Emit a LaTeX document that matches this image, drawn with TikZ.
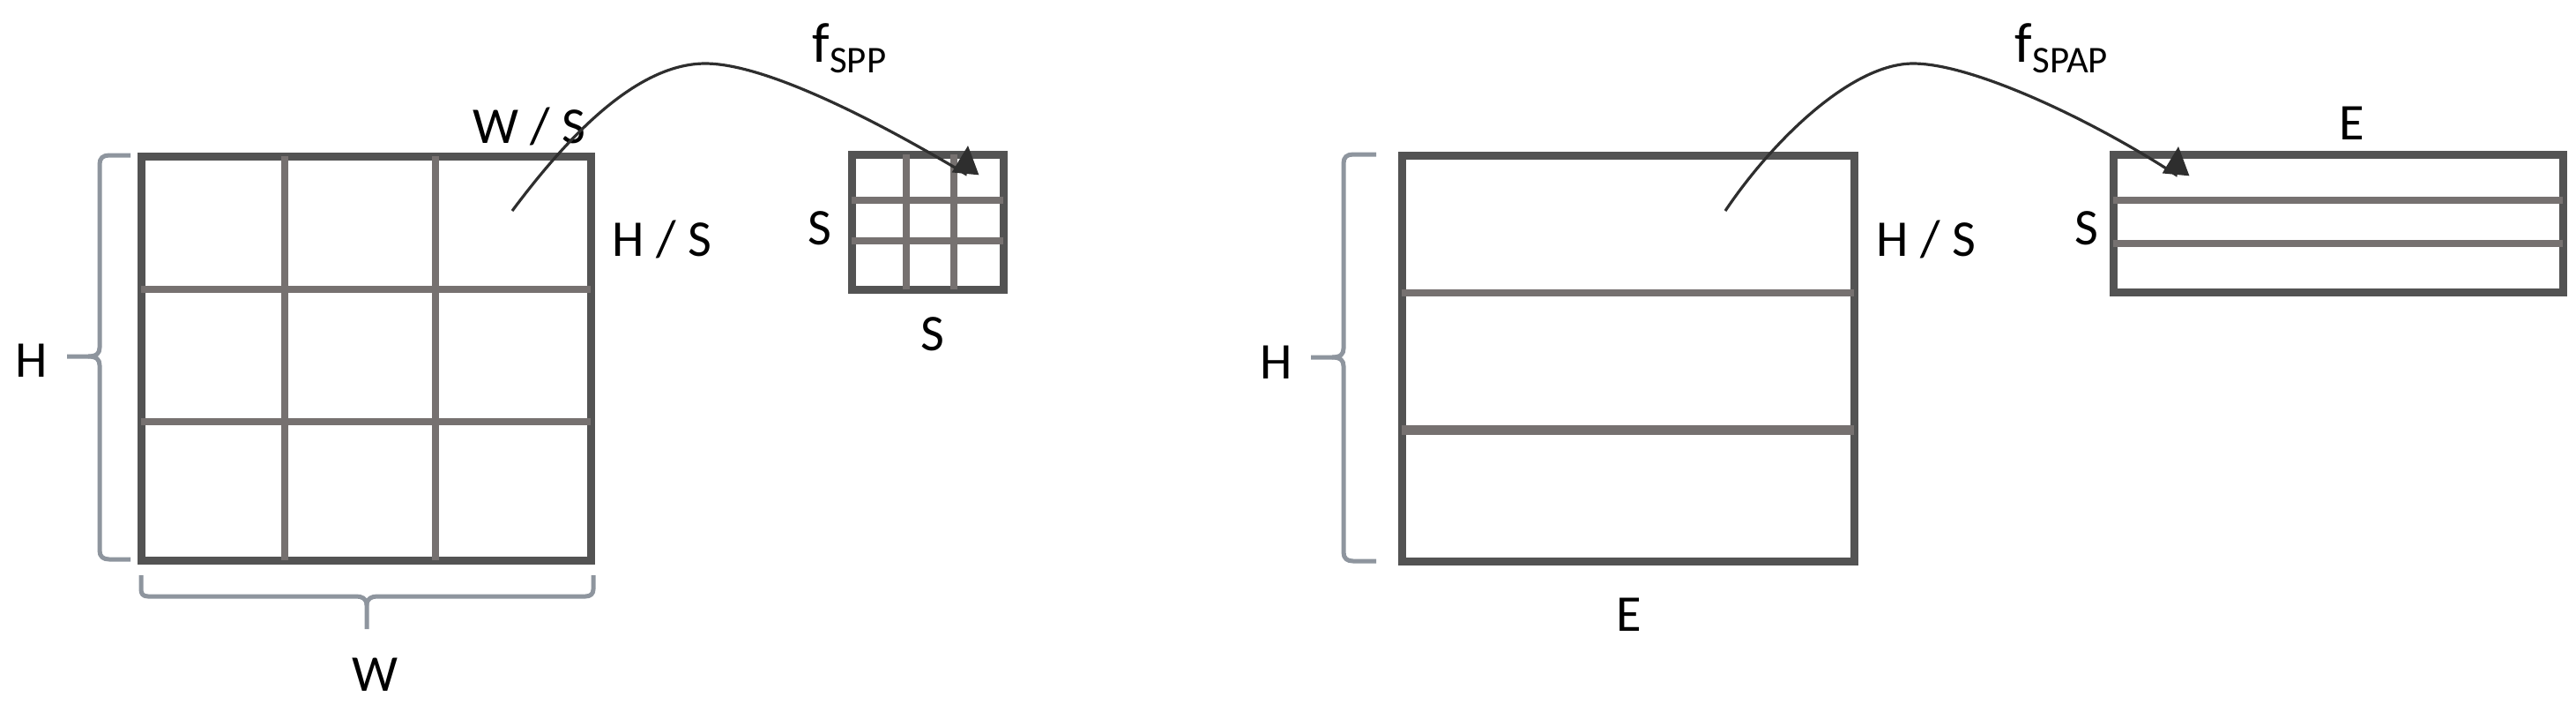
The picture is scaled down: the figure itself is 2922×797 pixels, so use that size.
\documentclass[tikz,border=0pt]{standalone}
\usepackage{fontspec}
\setmainfont{Carlito}
\usetikzlibrary{arrows.meta}
\definecolor{framegray}{HTML}{535353}
\definecolor{linegray}{HTML}{767170}
\definecolor{bracegray}{HTML}{8E959E}
\definecolor{curvegray}{HTML}{2E2E2E}
\begin{document}
\begin{tikzpicture}[x=0.25pt,y=-0.25pt,
  frame/.style={draw=framegray,line width=2.25pt},
  cell/.style={draw=linegray,line width=2pt},
  thickcell/.style={draw=linegray,line width=2.75pt},
  brace/.style={draw=bracegray,line width=1.25pt,line join=round},
  lbl/.style={inner sep=0pt,anchor=base,font=\fontsize{14.6}{17}\selectfont},
  flow/.style={draw=curvegray,line width=0.8pt,-{Triangle[length=8pt,width=7.5pt]}}]
\useasboundingbox (0,0) rectangle (2922,797);

% ---------- left: SPP ----------
\draw[frame] (160,177) rectangle (670,635);
\draw[cell] (323,177) -- (323,635);
\draw[cell] (494,177) -- (494,635);
\draw[cell] (160,328) -- (670,328);
\draw[cell] (160,478) -- (670,478);

\draw[frame] (966,175) rectangle (1138,328);
\draw[cell] (1028,175) -- (1028,328);
\draw[cell] (1082,175) -- (1082,328);
\draw[cell] (966,227) -- (1138,227);
\draw[cell] (966,273) -- (1138,273);

% left brace (H)
\draw[brace] (148,176) -- (124,176) .. controls (117,176) and (113,179) .. (113,186)
  -- (113,394) .. controls (113,400) and (110,404) .. (100,404) -- (76,404);
\draw[brace] (100,404) .. controls (110,404) and (113,408) .. (113,414)
  -- (113,624) .. controls (113,631) and (117,634) .. (124,634) -- (148,634);
% bottom brace (W)
\draw[brace] (160,652) -- (160,668) .. controls (160,673) and (162,676) .. (168,676)
  -- (404,676) .. controls (410,676) and (416,678) .. (416,686) -- (416,713);
\draw[brace] (416,686) .. controls (416,678) and (422,676) .. (428,676)
  -- (664,676) .. controls (670,676) and (673,673) .. (673,668) -- (673,652);

\node[lbl] (ws) at (600,162) {W / S};
\node[lbl] (hsL) at (751,290) {H / S};
\node[lbl] (sL1) at (930,277) {S};
\node[lbl] (sL2) at (1058,397) {S};
\node[lbl] (hL) at (36,427) {H};
\node[lbl] (wL) at (425,783) {W};
\node[lbl,anchor=base west] (fspp) at (921,70)
  {\fontsize{16}{18}\selectfont f\raisebox{-3pt}{\fontsize{10.7}{12}\selectfont SPP}};

\coordinate (sppA) at (581,239);
\coordinate (sppP) at (800,72);
\coordinate (sppB) at (1095,197);
\coordinate (sppT) at (1098,165);
\draw[flow] (sppA) .. controls (640,160) and (720,72) .. (sppP)
  .. controls (870,72) and (1000,140) .. (sppB) -- (sppT);

% ---------- right: SPAP ----------
\draw[frame] (1590,176) rectangle (2103,636);
\draw[cell] (1590,332) -- (2103,332);
\draw[thickcell] (1590,487) -- (2103,487);

\draw[frame] (2397,175) rectangle (2907,331);
\draw[cell] (2397,227) -- (2907,227);
\draw[cell] (2397,276) -- (2907,276);

\draw[brace] (1561,175) -- (1535,175) .. controls (1528,175) and (1524,178) .. (1524,185)
  -- (1524,395) .. controls (1524,401) and (1521,405) .. (1511,405) -- (1487,405);
\draw[brace] (1511,405) .. controls (1521,405) and (1524,409) .. (1524,415)
  -- (1524,626) .. controls (1524,633) and (1528,636) .. (1535,636) -- (1561,636);

\node[lbl] (hR) at (1448,429) {H};
\node[lbl] (eR1) at (1848,715) {E};
\node[lbl] (hsR) at (2185,290) {H / S};
\node[lbl] (sR) at (2367,277) {S};
\node[lbl] (eR2) at (2668,158) {E};
\node[lbl,anchor=base west] (fspap) at (2285,70)
  {\fontsize{16}{18}\selectfont f\raisebox{-3pt}{\fontsize{10.7}{12}\selectfont SPAP}};

\coordinate (spapA) at (1957,239);
\coordinate (spapP) at (2170,72);
\coordinate (spapB) at (2468,198);
\coordinate (spapT) at (2471,166);
\draw[flow] (spapA) .. controls (2010,160) and (2100,72) .. (spapP)
  .. controls (2240,72) and (2380,140) .. (spapB) -- (spapT);
\end{tikzpicture}
\end{document}
